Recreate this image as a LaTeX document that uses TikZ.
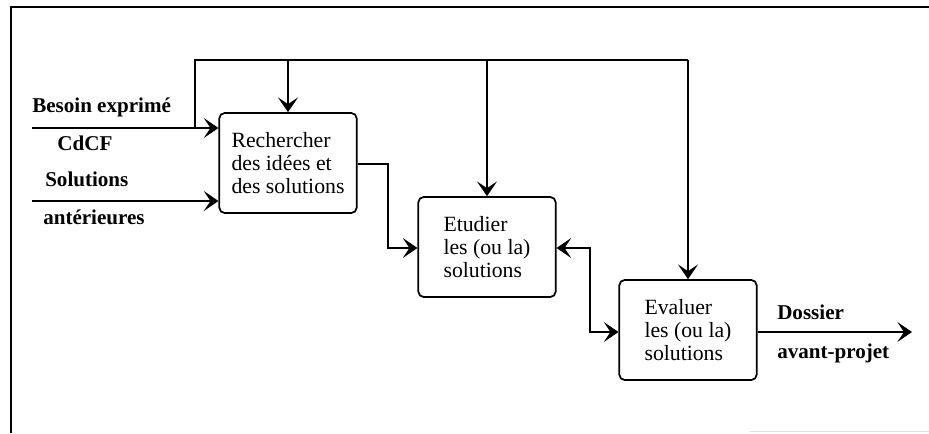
\documentclass[tikz,border=0pt]{standalone}
\usepackage{fontspec}
\setmainfont{Liberation Serif}
\usetikzlibrary{arrows.meta}
\begin{document}
\begin{tikzpicture}[x=0.75pt,y=-0.75pt,
  proc/.style={draw,line width=1.3pt,rounded corners=4pt,align=left,
    minimum width=103pt,minimum height=75pt,inner sep=0pt,
    font=\fontsize{16.3}{17.25}\selectfont},
  lab/.style={inner sep=0pt,font=\fontsize{15.8}{17}\selectfont\bfseries},
  conn/.style={line width=1.2pt},
  tipv/.tip={Stealth[length=11pt,width=15pt,inset=5pt,line width=1pt]},
  frame/.style={line width=2pt}]
\useasboundingbox (0,0) rectangle (929,433);
% frame
\coordinate (fTL) at (11,7);
\coordinate (fTR) at (929,7);
\coordinate (fBL) at (11,433);
\draw[frame] (fTR) -- (fTL) -- (fBL);
\coordinate (gA) at (750,431);
\coordinate (gB) at (929,431);
\draw[gray!25,line width=0.6pt] (gA) -- (gB);
% boxes
\node[proc] (b1) at (288,163) {Rechercher\\des idées et\\des solutions};
\node[proc] (b2) at (487,247) {Etudier\\les (ou la)\\solutions};
\node[proc] (b3) at (688,330) {Evaluer\\les (ou la)\\solutions};
% inputs
\coordinate (in1) at (32,128);
\coordinate (in2) at (32,201);
\draw[conn,-tipv] (in1) -- (in1 -| b1.west);
\draw[conn,-tipv] (in2) -- (in2 -| b1.west);
\node[lab,anchor=west] (l1) at (32,107) {Besoin exprimé};
\node[lab] (l2) at (85,143) {CdCF};
\node[lab,anchor=west] (l3) at (45,179) {Solutions};
\node[lab,anchor=west] (l4) at (43,217) {antérieures};
% feedback loop
\coordinate (fb0) at (195,128);
\coordinate (fbT) at (195,60);
\coordinate (fbR) at (688,60);
\draw[conn] (fb0) -- (fbT) -- (fbR);
\draw[conn,-tipv] (fbR) -- (b3.north);
\draw[conn,-tipv] (b1.north |- fbT) -- (b1.north);
\draw[conn,-tipv] (b2.north |- fbT) -- (b2.north);
% b1 -> b2
\coordinate (o1) at (388,164);
\coordinate (i2) at (388,248);
\draw[conn,-tipv] (o1 -| b1.east) -- (o1) -- (i2) -- (i2 -| b2.west);
% b2 <-> b3
\coordinate (m1) at (590,248);
\coordinate (m2) at (590,332);
\draw[conn,tipv-tipv] (m1 -| b2.east) -- (m1) -- (m2) -- (m2 -| b3.west);
% output
\coordinate (out) at (912,332);
\draw[conn,-tipv] (out -| b3.east) -- (out);
\node[lab,anchor=west] (d1) at (777,312) {Dossier};
\node[lab,anchor=west] (d2) at (777,353) {avant-projet};
\end{tikzpicture}
\end{document}
